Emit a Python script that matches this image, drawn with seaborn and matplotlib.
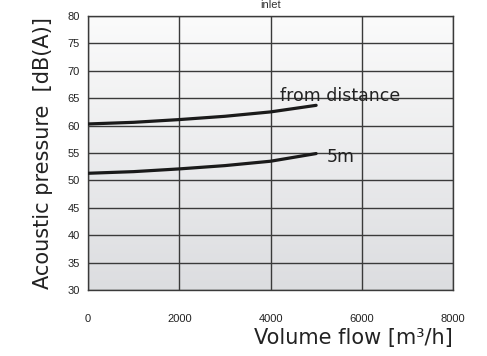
import numpy as np
import pandas as pd
import seaborn as sns
import matplotlib.pyplot as plt

# curves
flow = [0, 1000, 2000, 3000, 4000, 4500, 5000]
p_distance = [60.3, 60.6, 61.1, 61.7, 62.5, 63.1, 63.7]
p_5m = [51.3, 51.6, 52.1, 52.7, 53.5, 54.2, 54.9]
x_ticks = [0, 2000, 4000, 6000, 8000]
y_ticks = [30, 35, 40, 45, 50, 55, 60, 65, 70, 75, 80]

df = pd.DataFrame({
    "flow": flow * 2,
    "p": p_distance + p_5m,
    "curve": ["from distance"] * len(flow) + ["5m"] * len(flow),
})

sns.set_style("white")
plt.rcParams["font.family"] = ["Liberation Sans", "DejaVu Sans"]

fig = plt.figure(figsize=(4.87, 3.56), dpi=100)
ax = fig.add_axes([0.1807, 0.1854, 0.7495, 0.7696])

# background gradient, light grey at bottom to white at top
grad = np.linspace(0, 1, 256).reshape(-1, 1)
ax.imshow(grad, extent=[0, 8000, 30, 80], aspect="auto", origin="lower",
          cmap=sns.blend_palette(["#dcdde0", "#fbfbfb"], as_cmap=True),
          zorder=0)

sns.lineplot(data=df, x="flow", y="p", hue="curve",
             palette=["#1a1a1a", "#1a1a1a"], linewidth=2.3, legend=False,
             ax=ax, zorder=3)

ax.set_xlim(0, 8000)
ax.set_ylim(30, 80)
ax.set_xticks(x_ticks)
ax.set_yticks(y_ticks)
ax.grid(True, color="#3a3a3a", linewidth=1.0, zorder=1)
ax.set_axisbelow(False)
for s in ax.spines.values():
    s.set_color("#3a3a3a")
    s.set_linewidth(1.0)
ax.tick_params(axis="both", direction="out", length=3, width=1,
               color="#3a3a3a", labelsize=8, labelcolor="#222222")
ax.tick_params(axis="x", pad=14)
ax.tick_params(axis="y", pad=3)

ax.set_xlabel("Volume flow [m³/h]", fontsize=15, family="DejaVu Sans",
              color="#222222", loc="right", labelpad=3)
ax.set_ylabel("Acoustic pressure  [dB(A)]", fontsize=15, family="DejaVu Sans",
              color="#222222", labelpad=10)
fig.text(0.555, 1 - 8 / 356, "inlet", fontsize=8, color="#333333",
         ha="center", va="baseline")

ax.text(4200, 65.4, "from distance", fontsize=12.5, color="#222222",
        family="DejaVu Sans", va="center", zorder=4)
ax.text(5240, 54.3, "5m", fontsize=12.5, color="#222222",
        family="DejaVu Sans", va="center", zorder=4)

fig.savefig("out.png", dpi=100)
